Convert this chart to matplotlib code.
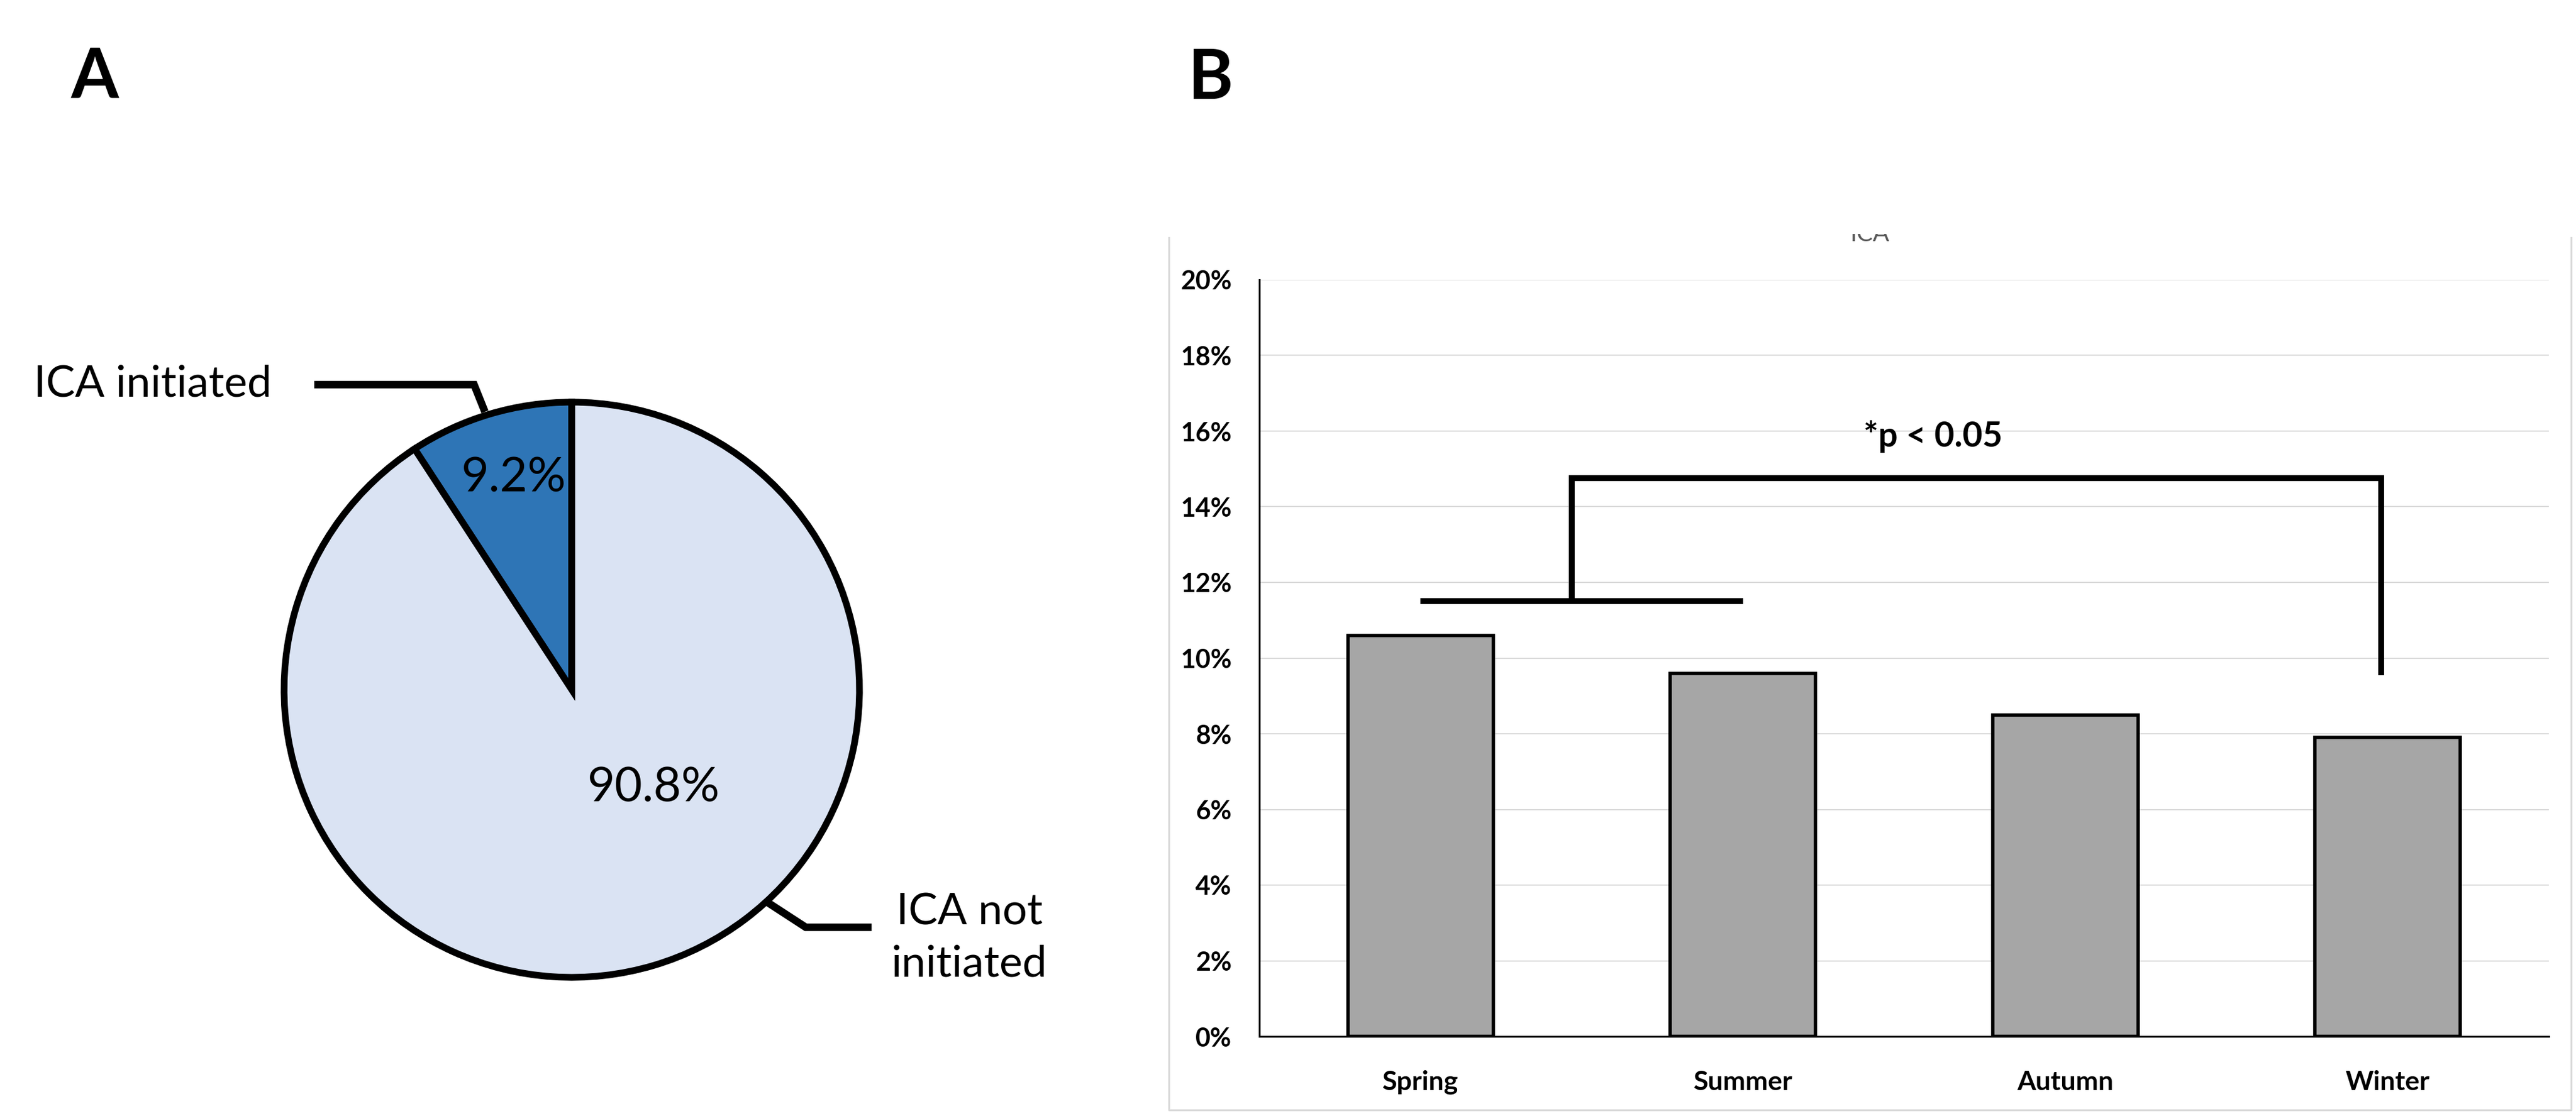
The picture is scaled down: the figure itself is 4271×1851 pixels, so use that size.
import matplotlib
matplotlib.use('Agg')
import matplotlib.pyplot as plt
from matplotlib.lines import Line2D
from matplotlib.ticker import PercentFormatter
from matplotlib.transforms import Bbox, TransformedBbox

plt.rcParams['font.family'] = ['Lato', 'DejaVu Sans']

# data
pie_labels = ['ICA initiated', 'ICA not\ninitiated']
pie_values = [9.2, 90.8]
pie_colors = ['#2E75B6', '#DAE3F3']

seasons = ['Spring', 'Summer', 'Autumn', 'Winter']
season_rates = [10.6, 9.6, 8.5, 7.9]
y_ticks = [0, 2, 4, 6, 8, 10, 12, 14, 16, 18, 20]

# significance bracket (percent values)
bracket_low = 11.5
bracket_high = 14.75
bracket_end = 9.55

W, H = 4271, 1851
fig = plt.figure(figsize=(W / 100, H / 100), dpi=100)

# ---- panel A: pie, axes in pixel units ----
axp = fig.add_axes([0, 0, 1900 / W, 1])
cx, cy, r = 948, H - 1144, 477
wedges, _ = axp.pie(pie_values, colors=pie_colors, startangle=90,
                    counterclock=True, radius=r, center=(cx, cy),
                    wedgeprops=dict(edgecolor='black', linewidth=8))
axp.set_xlim(0, 1900)
axp.set_ylim(0, H)
axp.axis('off')

# percentage labels inside the slices
axp.text(cx - 96, cy + 351, '%.1f%%' % pie_values[0], ha='center', va='center', fontsize=57)
axp.text(cx + 136, cy - 163, '%.1f%%' % pie_values[1], ha='center', va='center', fontsize=57)

# leader lines + outside labels
axp.plot([521, 786, 804], [H - 638, H - 638, H - 683], color='black', lw=9,
         solid_joinstyle='miter', solid_capstyle='butt')
axp.plot([1273, 1336, 1445], [H - 1497, H - 1538, H - 1538], color='black', lw=9,
         solid_joinstyle='miter', solid_capstyle='butt')
axp.text(450, H - 658, pie_labels[0], ha='right', va='baseline', fontsize=52)
axp.text(1607, H - 1556, pie_labels[1], ha='center', va='center', fontsize=52,
         linespacing=1.4)

# ---- panel B: bars ----
axb = fig.add_axes([2088 / W, (H - 1719) / H, (4226 - 2088) / W, (1719 - 464) / H])
x = list(range(len(seasons)))
axb.bar(x, season_rates, width=0.45, color='#A6A6A6', edgecolor='black',
        linewidth=4, zorder=3)
axb.set_xlim(-0.5, 3.5)
axb.set_ylim(0, 20)
axb.set_yticks(y_ticks)
axb.yaxis.set_major_formatter(PercentFormatter(decimals=0))
axb.set_xticks(x)
axb.set_xticklabels(seasons)
axb.grid(axis='y', color='#D9D9D9', lw=1.4)
axb.set_axisbelow(True)
for s in ['top', 'right']:
    axb.spines[s].set_visible(False)
for s in ['left', 'bottom']:
    axb.spines[s].set_linewidth(2.2)
    axb.spines[s].set_color('black')
axb.tick_params(axis='y', length=0, labelsize=31, pad=33)
axb.tick_params(axis='x', length=0, labelsize=32, pad=40)
for lab in axb.get_xticklabels() + axb.get_yticklabels():
    lab.set_fontweight('bold')

# bracket
axb.plot([0, 1], [bracket_low, bracket_low], color='black', lw=7,
         solid_capstyle='butt', zorder=4, clip_on=False)
axb.plot([0.47, 0.47, 2.98, 2.98], [bracket_low, bracket_high, bracket_high, bracket_end],
         color='black', lw=7, solid_joinstyle='miter', solid_capstyle='butt',
         zorder=4, clip_on=False)
axb.text(1.589, 15.59, '*p < 0.05', ha='center', va='baseline', fontsize=41,
         fontweight='bold')

# chart frame (top cut off)
fig.add_artist(Line2D([1938 / W, 1938 / W, 4263 / W, 4263 / W],
                      [1 - 394 / H, 1 - 1841 / H, 1 - 1841 / H, 1 - 394 / H],
                      transform=fig.transFigure, color='#D9D9D9', lw=2.2))

# cropped chart title
t = fig.text(3100 / W, 1 - 400 / H, 'ICA', ha='center', va='baseline',
             fontsize=29, color='#595959')
t.set_clip_box(TransformedBbox(Bbox([[0, 0], [1, 1 - 388 / H]]), fig.transFigure))
t.set_clip_on(True)

# panel letters
fig.text(157 / W, 1 - 162 / H, 'A', ha='center', va='baseline', fontsize=82,
         fontweight='bold')
fig.text(2007 / W, 1 - 164 / H, 'B', ha='center', va='baseline', fontsize=82,
         fontweight='bold')

fig.savefig('out.png', dpi=100)
